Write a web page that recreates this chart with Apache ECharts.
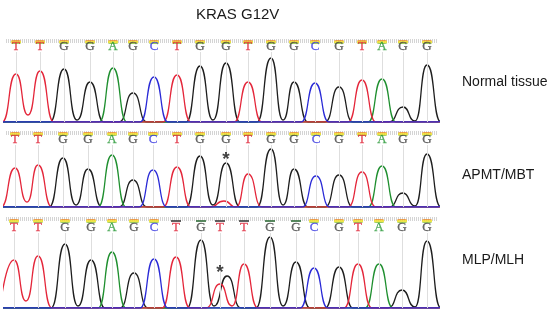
<!DOCTYPE html>
<html><head><meta charset="utf-8">
<script src="https://cdn.jsdelivr.net/npm/echarts@6/dist/echarts.min.js"></script>
<style>html,body{margin:0;padding:0;background:#fff}#c{width:550px;height:320px}</style>
</head><body><div id="c"></div>
<script>
// ---------------- data ----------------
const chartTitle = 'KRAS G12V';
const sampleNames = ['Normal tissue', 'APMT/MBT', 'MLP/MLH'];

const calls1 = ['T','T','G','G','A','G','C','T','G','G','T','G','G','C','G','T','A','G','G'];
const calls2 = ['T','T','G','G','A','G','C','T','G','G','T','G','G','C','G','T','A','G','G'];
const calls3 = ['T','T','G','G','A','G','C','T','G','T','T','G','G','C','G','T','A','G','G'];

// scan positions of each base call
const pos1 = [16,40,64,90,113,133,154,177,200,226,248,271,294,315,339,362,382,403,427];
const pos2 = [15,38,63,88,112,133,153,177,200,226,248,271,294,316,339,362,382,403,427];
const pos3 = [14,38,65,91,112,134,154,176,201,220,244,270,296,314,339,358,379,402,427];

// primary peak heights (signal intensity) for each call
const heights1 = [48,51,53,40,54,29,45,47,56,59,40,64,40,39,35,42,43,15,57];
const heights2 = [39,42,49,38,52,27,37,40,51,44,33,58,38,31,32,35,41,14,53];
const heights3 = [48,52,64,48,56,35,49,51,68,24,44,71,46,40,41,44,44,18,67];

// secondary peaks [base, position, height]
const extra1 = [['C',452,30]];
const extra2 = [['T',224,6],['C',452,30]];
const extra3 = [['G',227,32],['C',452,30]];

// valleys between neighbouring peaks of one base [base, position, height]
const valleys1 = [['T',28,7],['G',77,2],['G',213,2],['G',283,2],['G',415,1]];
const valleys2 = [['T',27,5],['G',76,2],['G',213,2],['G',283,2],['G',415,1]];
const valleys3 = [['T',26,7],['G',78,2],['G',214,2],['T',232,2],['G',283,2],['G',415,1]];

// low quality calls (1-based index) per sample
const lowQual1 = [];
const lowQual2 = [];
const lowQual3 = [8,9,10,11,12,13];

// mutation marks [position, height]
const mark1 = null;
const mark2 = [226,51];
const mark3 = [220,39];

// ---------------- layout / style ----------------
const panels = [
  {calls:calls1,pos:pos1,h:heights1,extra:extra1,valleys:valleys1,low:lowQual1,mark:mark1,top:36,height:86,band:81,marker:80,letter:75},
  {calls:calls2,pos:pos2,h:heights2,extra:extra2,valleys:valleys2,low:lowQual2,mark:mark2,top:129,height:78,band:74,marker:73,letter:67},
  {calls:calls3,pos:pos3,h:heights3,extra:extra3,valleys:valleys3,low:lowQual3,mark:mark3,top:214,height:94,band:89,marker:87,letter:80}
];
const traceColor = {A:'#1f8f2f', C:'#2a2ad6', G:'#1e1e1e', T:'#e4263a'};
const letterColor = {A:'#2a9a3a', C:'#3a3ae0', G:'#444444', T:'#e0283c'};
const lowColor = {A:'#2f6b38', C:'#2f3a6b', G:'#2f6b38', T:'#3a3a3a'};
const W = 14, X0 = 4, X1 = 438;

const grids = [], xAxes = [], yAxes = [], series = [];
panels.forEach((p, gi) => {
  grids.push({left: X0, width: X1 - X0, top: p.top, height: p.height});
  xAxes.push({type:'value', gridIndex:gi, min:X0, max:X1, show:false});
  yAxes.push({type:'value', gridIndex:gi, min:0, max:p.height, show:false});

  // dotted band
  series.push({type:'line', xAxisIndex:gi, yAxisIndex:gi, silent:true, symbol:'none',
    data:[[X0+2,p.band],[X1,p.band]],
    lineStyle:{color:'#d4d4d4', width:4, type:[1,1]}, z:1});
  // guide lines
  series.push({type:'line', xAxisIndex:gi, yAxisIndex:gi, silent:true, symbol:'none', data:[],
    markLine:{silent:true, symbol:'none', label:{show:false},
      lineStyle:{color:'#dedede', width:1, type:'solid'},
      data:p.pos.map(x => [{coord:[x, p.letter-5]},{coord:[x,0]}])}, z:1});

  // traces
  ['G','A','T','C'].forEach(b => {
    const pk = [];
    p.calls.forEach((c,i) => { if (c === b) pk.push([p.pos[i], p.h[i]]); });
    p.extra.forEach(e => { if (e[0] === b) pk.push([e[1], e[2]]); });
    pk.sort((a,c) => a[0]-c[0]);
    const vals = p.valleys.filter(v => v[0] === b);
    const pts = [[0,0]];
    pk.forEach((q,i) => {
      const prev = pk[i-1], next = pk[i+1];
      if (!(prev && q[0]-prev[0] <= 2*W)) pts.push([q[0]-W,0]);
      pts.push(q);
      if (next && next[0]-q[0] <= 2*W) {
        const v = vals.find(v => v[1] > q[0] && v[1] < next[0]);
        pts.push(v ? [v[1], v[2]] : [(q[0]+next[0])/2, 0]);
      } else pts.push([q[0]+W,0]);
    });
    pts.push([470,0]);
    series.push({type:'line', xAxisIndex:gi, yAxisIndex:gi, data:pts, symbol:'none',
      smooth:0.6, smoothMonotone:'x', silent:true,
      lineStyle:{color:traceColor[b], width:1.3}, z:3});
  });

  // quality markers
  series.push({type:'scatter', xAxisIndex:gi, yAxisIndex:gi, silent:true, z:5,
    data:p.pos.map((x,i) => {
      const low = p.low.includes(i+1);
      return {value:[x,p.marker], symbol: low ? 'rect' : 'roundRect',
        symbolSize: low ? [10,2] : [10,4],
        itemStyle: low ? {color: lowColor[p.calls[i]]} : {color:{type:'linear',x:0,y:0,x2:0,y2:1,
          colorStops:[{offset:0,color:'#e8502a'},{offset:0.3,color:'#f2d81a'},{offset:0.65,color:'#e8e020'},{offset:1,color:'#4aa83a'}]}}
      };
    })});
  // base letters
  series.push({type:'scatter', xAxisIndex:gi, yAxisIndex:gi, silent:true, z:5, symbolSize:1,
    itemStyle:{color:'rgba(0,0,0,0)'},
    data:p.pos.map((x,i) => ({value:[x,p.letter], name:p.calls[i],
      label:{show:true, position:'inside', formatter:p.calls[i], color:letterColor[p.calls[i]],
        fontFamily:'Liberation Serif', fontSize:13, textBorderColor:letterColor[p.calls[i]], textBorderWidth:0.3}}))});
  // mutation asterisk
  if (p.mark) series.push({type:'scatter', xAxisIndex:gi, yAxisIndex:gi, silent:true, z:6, symbolSize:1,
    itemStyle:{color:'rgba(0,0,0,0)'},
    data:[{value:p.mark, label:{show:true, position:'inside', formatter:'*', color:'#111',
      fontFamily:'Liberation Sans', fontWeight:'bold', fontSize:19, offset:[0,4]}}]});
});

const chart = echarts.init(document.getElementById('c'), null, {renderer:'canvas'});
chart.setOption({
  animation:false,
  backgroundColor:'#ffffff',
  grid:grids, xAxis:xAxes, yAxis:yAxes, series:series,
  graphic:[
    {type:'text', left:196, top:7, style:{text:chartTitle, fill:'#1a1a1a', font:'15px "Liberation Sans", Arial'}},
    {type:'text', left:462, top:75, style:{text:sampleNames[0], fill:'#1a1a1a', font:'14px "Liberation Sans", Arial'}},
    {type:'text', left:462, top:168, style:{text:sampleNames[1], fill:'#1a1a1a', font:'14px "Liberation Sans", Arial'}},
    {type:'text', left:462, top:253, style:{text:sampleNames[2], fill:'#1a1a1a', font:'14px "Liberation Sans", Arial'}}
  ]
});
</script></body></html>
